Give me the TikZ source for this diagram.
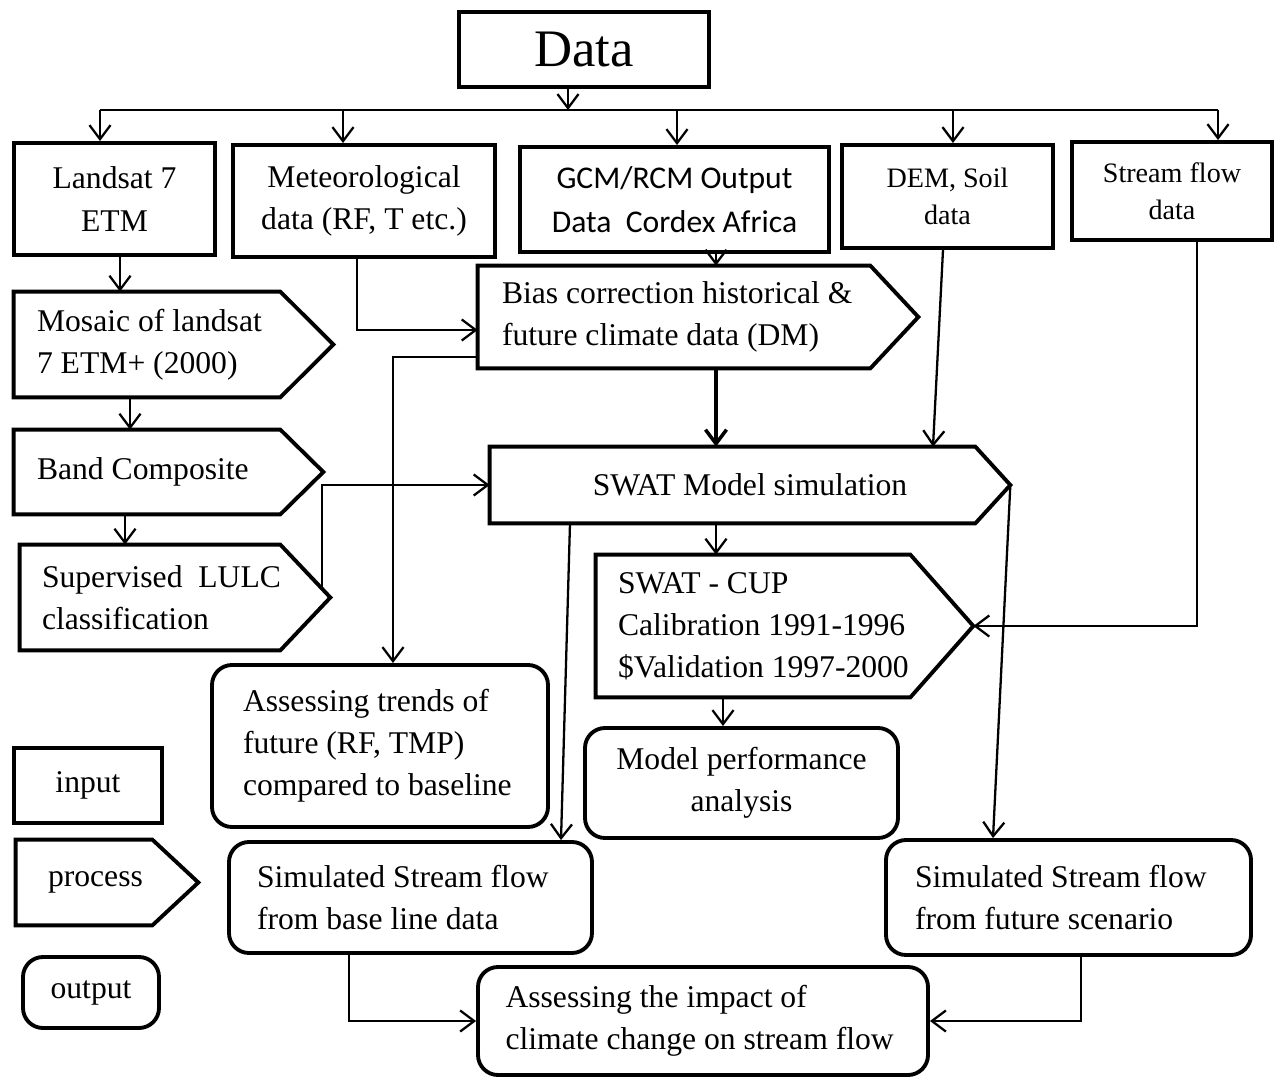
\documentclass[tikz,border=0pt]{standalone}
\usepackage{fontspec}
\setmainfont{Liberation Serif}
\newfontfamily\calibrifont{Carlito}
\usetikzlibrary{positioning, calc, arrows.meta}

\begin{document}
\begin{tikzpicture}[x=0.02cm, y=-0.02cm,
    font=\fontsize{18}{24}\selectfont,
    boxsize/.style 2 args={minimum width=#1*0.02cm, minimum height=#2*0.02cm, inner sep=0pt},
    inbox/.style={rectangle, draw, line width=2.2pt},
    procbox/.style={rectangle},
    outbox/.style={rectangle, draw, rounded corners=0.4cm, line width=2.2pt},
    arr/.style={-{Straight Barb[length=8pt,width=12pt]}, line width=1.3pt}]
\useasboundingbox (0,0) rectangle (1275,1078);

% input boxes
\node [inbox, boxsize={250}{75}, font=\fontsize{30}{36}\selectfont, line width=2.6pt] (data) at (584,49.5) {Data};
\node [inbox, boxsize={201}{112}, align=center] (landsat) at (114.5,199) {Landsat 7\\ETM};
\node [inbox, boxsize={262}{112}, align=center] (met) at (364,201) {Meteorological\\data (RF, T etc.)};
\node [inbox, boxsize={309}{105}, align=center, font=\calibrifont\fontsize{18}{25}\selectfont] (gcm) at (674.5,199.5) {GCM/RCM Output\\Data~ Cordex Africa};
\node [inbox, boxsize={211}{103}, align=center, font=\fontsize{16}{21}\selectfont] (dem) at (947.5,196.5) {DEM, Soil\\data};
\node [inbox, boxsize={200}{98}, align=center, font=\fontsize{16}{21}\selectfont] (stream) at (1172,191) {Stream flow\\data};

% process boxes (outline drawn below)
\node [procbox, boxsize={319}{105}, align=flush left, text width=5.46cm] (mosaic) at (173.5,344.5) {Mosaic of landsat\\7 ETM+ (2000)};
\node [procbox, boxsize={309}{84}, align=flush left, text width=5.26cm] (band) at (168.5,472) {Band Composite};
\node [procbox, boxsize={310}{105}, align=flush left, text width=5.32cm] (superv) at (175,597.5) {Supervised~ LULC\\classification};
\node [procbox, boxsize={440}{102}, align=flush left, text width=7.84cm] (bias) at (698,317) {Bias correction historical \&\\future climate data (DM)};
\node [procbox, boxsize={520}{76}] (swat) at (750,485) {SWAT Model simulation};
\node [procbox, boxsize={377}{142}, align=flush left, text width=6.66cm] (cup) at (784.5,626) {SWAT - CUP\\Calibration 1991-1996\\\$Validation 1997-2000};

% output boxes
\node [outbox, boxsize={336}{162}, align=flush left, text width=5.48cm] (trends) at (380,746) {Assessing trends of\\future (RF, TMP)\\compared to baseline};
\node [outbox, boxsize={313}{110}, align=center] (perf) at (741.5,783) {Model performance\\analysis};
\node [outbox, boxsize={363}{111}, align=flush left, text width=6.14cm] (simbase) at (410.5,897.5) {Simulated Stream flow\\from base line data};
\node [outbox, boxsize={365}{115}, align=flush left, text width=6.14cm] (simfut) at (1068.5,897.5) {Simulated Stream flow\\from future scenario};
\node [outbox, boxsize={450}{108}, align=flush left, text width=7.9cm] (impact) at (703,1021) {Assessing the impact of\\climate change on stream flow};

% legend
\node [inbox, boxsize={148}{75}] (inlegend) at (88,785.5) {input};
\node [procbox, boxsize={182}{85}, align=flush left, text width=2.36cm] (proclegend) at (107,882.5) {process};
\node [outbox, boxsize={136}{71}] (outlegend) at (91,992.5) {output};

\foreach \n/\d in {mosaic/53, band/43, superv/50, bias/48, swat/35, cup/63, proclegend/46}
    \draw [line width=2.2pt] (\n.north west) -- ($(\n.north east)+(-\d,0)$) -- (\n.east)
        -- ($(\n.south east)+(-\d,0)$) -- (\n.south west) -- cycle;

% data bus
\coordinate (busL) at (100,110);
\coordinate (busR) at (1218,110);
\draw [line width=1.3pt] (busL) -- (busR);
\draw [arr] (data.south -| 568,0) -- (568,110);
\foreach \n/\x in {landsat/100, met/343, gcm/677, dem/953, stream/1218}
    \draw [arr] (\x,110) -- (\x,110 |- \n.north);

% landsat chain
\draw [arr] (120,0 |- landsat.south) -- (120,0 |- mosaic.north);
\draw [arr] (130,0 |- mosaic.south) -- (130,0 |- band.north);
\draw [arr] (125,0 |- band.south) -- (125,0 |- superv.north);
\draw [arr] ($(superv.east)+(-8,-8)$) |- (swat.west);

% climate data
\draw [arr] (716,0 |- gcm.south) -- (716,0 |- bias.north);
\draw [arr] (357,0 |- met.south) |- (bias.west |- 0,330);
\draw [arr] (bias.west |- 0,357) -| (393,0 |- trends.north);
\draw [arr, line width=2pt] (716,0 |- bias.south) -- (716,0 |- swat.north);
\draw [arr] (943,0 |- dem.south) -- (933,0 |- swat.north);

% model
\draw [arr] (716,0 |- swat.south) -- (716,0 |- cup.north);
\draw [arr] (1197,0 |- stream.south) |- (cup.east);
\draw [arr] (723,0 |- cup.south) -- (723,0 |- perf.north);
\draw [arr] (570,0 |- swat.south) -- (561,0 |- simbase.north);
\draw [arr] (swat.east) -- (993,0 |- simfut.north);

% impact
\draw [arr] (349,0 |- simbase.south) |- (impact.west);
\draw [arr] (1081,0 |- simfut.south) |- (impact.east);
\end{tikzpicture}
\end{document}
